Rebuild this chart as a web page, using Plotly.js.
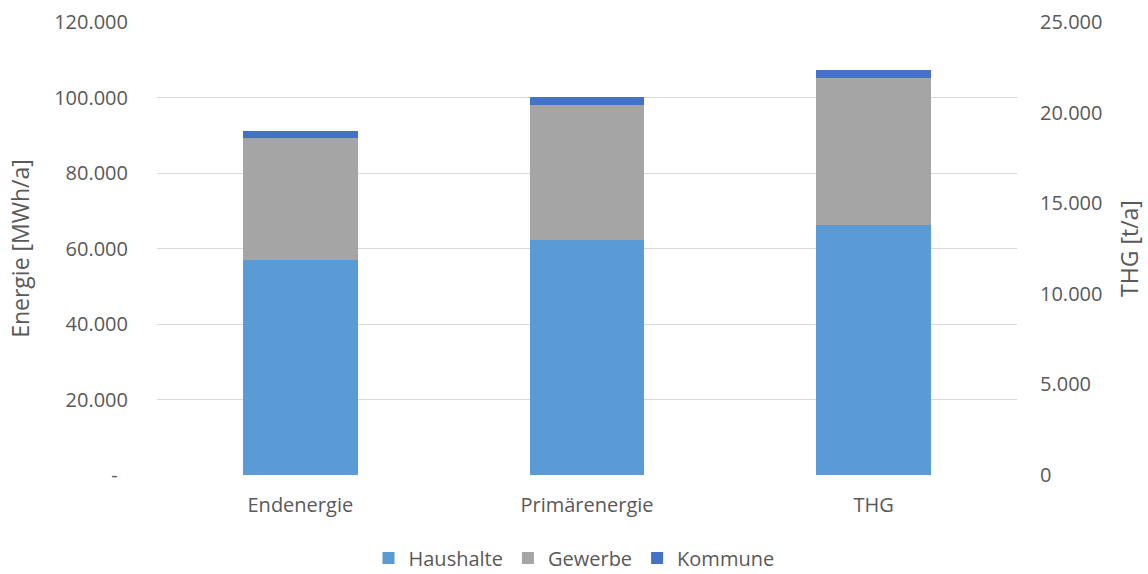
<!DOCTYPE html>
<html><head><meta charset="utf-8">
<script src="https://cdn.plot.ly/plotly-3.0.1.min.js"></script>
<style>html,body{margin:0;padding:0;background:#fff}#chart{width:1148px;height:574px}</style>
</head><body><div id="chart"></div>
<script>
// Energy categories (left axis, MWh/a)
const energyCats = ["Endenergie", "Primärenergie"];
const haushalteEnergy = [56900, 62300];
const gewerbeEnergy = [32500, 35600];
const kommuneEnergy = [1600, 2300];
// THG category (right axis, t/a)
const thgCats = ["THG"];
const haushalteTHG = [13800];
const gewerbeTHG = [8110];
const kommuneTHG = [440];
// Tick labels
const leftTickVals = [0, 20000, 40000, 60000, 80000, 100000, 120000];
const leftTickText = ["-\u00A0\u00A0", "20.000", "40.000", "60.000", "80.000", "100.000", "120.000"];
const rightTickVals = [0, 5000, 10000, 15000, 20000, 25000];
const rightTickText = ["0", "5.000", "10.000", "15.000", "20.000", "25.000"];
const allCats = ["Endenergie", "Primärenergie", "THG"];

const colors = {Haushalte: "#5B9BD5", Gewerbe: "#A5A5A5", Kommune: "#4472C4"};
const W = 0.4;
function bar(name, x, y, axis, show) {
  return {type: "bar", name: name, x: x, y: y, yaxis: axis, width: W,
    marker: {color: colors[name]}, legendgroup: name, showlegend: show,
    hoverinfo: "x+y+name"};
}
const data = [
  bar("Haushalte", energyCats, haushalteEnergy, "y", true),
  bar("Gewerbe", energyCats, gewerbeEnergy, "y", true),
  bar("Kommune", energyCats, kommuneEnergy, "y", true),
  bar("Haushalte", thgCats, haushalteTHG, "y2", false),
  bar("Gewerbe", thgCats, gewerbeTHG, "y2", false),
  bar("Kommune", thgCats, kommuneTHG, "y2", false)
];
const font = {family: "'Open Sans', sans-serif", size: 20, color: "#595959"};
const titleFont = {family: "'Open Sans', sans-serif", size: 23, color: "#595959"};
const layout = {
  width: 1148, height: 574,
  paper_bgcolor: "#fff", plot_bgcolor: "#fff",
  font: font,
  barmode: "stack",
  margin: {l: 157, r: 131, t: 22, b: 99},
  xaxis: {type: "category", categoryorder: "array", categoryarray: allCats,
    range: [-0.5, 2.5], showgrid: false, zeroline: false, showline: false,
    ticks: "", ticklabelstandoff: 16, tickfont: font, automargin: false},
  yaxis: {range: [0, 120000], tickvals: leftTickVals, ticktext: leftTickText,
    showgrid: true, gridcolor: "#D9D9D9", gridwidth: 1, zeroline: false,
    showline: false, ticks: "", ticklabelstandoff: 28, tickfont: font, automargin: false,
    title: {text: "Energie [MWh/a]", font: titleFont, standoff: 18}},
  yaxis2: {range: [0, 25000], overlaying: "y", side: "right",
    tickvals: rightTickVals, ticktext: rightTickText,
    showgrid: false, zeroline: false, showline: false, ticks: "",
    ticklabelstandoff: 22, tickfont: font, automargin: false,
    title: {text: "THG [t/a]", font: titleFont, standoff: 20}},
  legend: {orientation: "h", x: 0.5, xanchor: "center", xref: "container",
    y: 0.028, yanchor: "middle", yref: "container",
    font: font, traceorder: "normal", itemwidth: 30},
  showlegend: true
};
Plotly.newPlot("chart", data, layout, {displayModeBar: false, staticPlot: true});
</script></body></html>
